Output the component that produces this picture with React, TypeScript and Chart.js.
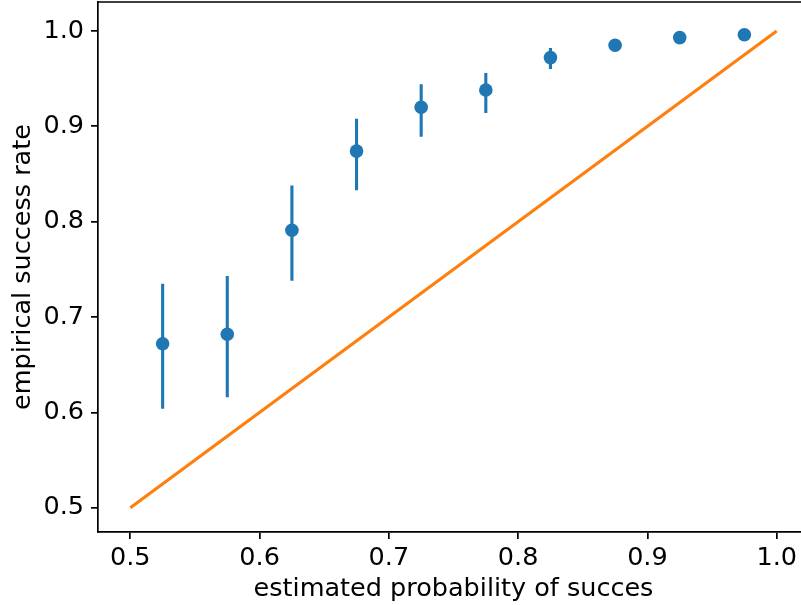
import React, { useEffect, useRef } from "react";
import { Chart, registerables } from "chart.js";

Chart.register(...registerables);

const binCenters = [0.525, 0.575, 0.625, 0.675, 0.725, 0.775, 0.825, 0.875, 0.925, 0.975];
const successRate = [0.672, 0.682, 0.791, 0.874, 0.920, 0.938, 0.972, 0.985, 0.993, 0.996];
const errLow = [0.604, 0.616, 0.738, 0.833, 0.889, 0.914, 0.960, 0.980, 0.990, 0.994];
const errHigh = [0.735, 0.743, 0.838, 0.908, 0.944, 0.956, 0.982, 0.989, 0.996, 0.998];
const diagX = [0.5, 1.0];
const diagY = [0.5, 1.0];
const xTicks = [0.5, 0.6, 0.7, 0.8, 0.9, 1.0];
const yTicks = [0.5, 0.6, 0.7, 0.8, 0.9, 1.0];

const BLUE = "#1f77b4";
const ORANGE = "#ff7f0e";
const FONT = "'DejaVu Sans', sans-serif";
const FS = 25.5;

const topSpine = {
  id: "topSpine",
  afterDraw(chart: any) {
    const { ctx, chartArea } = chart;
    ctx.save();
    ctx.strokeStyle = "#000";
    ctx.lineWidth = 1.7;
    ctx.beginPath();
    ctx.moveTo(chartArea.left - 0.85, chartArea.top);
    ctx.lineTo(chartArea.right, chartArea.top);
    ctx.stroke();
    ctx.restore();
  },
};

const gridOpts = {
  display: true,
  drawOnChartArea: false,
  drawTicks: true,
  tickLength: 7,
  tickColor: "#000",
  tickWidth: 1.7,
  color: "#000",
  lineWidth: 1.7,
};

export default function App() {
  const ref = useRef<HTMLCanvasElement | null>(null);

  useEffect(() => {
    if (!ref.current) return;
    const errData: any[] = [];
    binCenters.forEach((x, i) => {
      errData.push({ x, y: errLow[i] });
      errData.push({ x, y: errHigh[i] });
      errData.push({ x, y: null });
    });
    const chart = new Chart(ref.current, {
      type: "scatter",
      data: {
        datasets: [
          {
            type: "scatter",
            data: binCenters.map((x, i) => ({ x, y: successRate[i] })),
            backgroundColor: BLUE,
            borderColor: BLUE,
            pointRadius: 6.8,
            pointBorderWidth: 0,
            order: 0,
          } as any,
          {
            type: "line",
            data: errData,
            borderColor: BLUE,
            borderWidth: 3.1,
            pointRadius: 0,
            spanGaps: false,
            fill: false,
            order: 1,
          } as any,
          {
            type: "line",
            data: diagX.map((x, i) => ({ x, y: diagY[i] })),
            borderColor: ORANGE,
            borderWidth: 3.1,
            pointRadius: 0,
            fill: false,
            order: 2,
          } as any,
        ],
      },
      options: {
        animation: false,
        responsive: false,
        maintainAspectRatio: false,
        devicePixelRatio: 1,
        layout: { autoPadding: false, padding: { top: 2, right: 0, left: 0, bottom: 0 } },
        plugins: { legend: { display: false }, tooltip: { enabled: false } },
        scales: {
          x: {
            type: "linear",
            min: 0.475,
            max: 1.025,
            afterBuildTicks: (s: any) => {
              s.ticks = xTicks.map((v) => ({ value: v }));
            },
            afterFit: (s: any) => {
              s.height = 73;
              s.paddingLeft = 0;
              s.paddingRight = 0;
            },
            ticks: {
              color: "#000",
              font: { family: FONT, size: FS },
              padding: 4,
              maxRotation: 0,
              callback: (v: any) => Number(v).toFixed(1),
            },
            grid: gridOpts,
            border: { display: true, color: "#000", width: 1.7 },
            title: {
              display: true,
              text: "estimated probability of succes",
              color: "#000",
              font: { family: FONT, size: FS, lineHeight: 1.2 },
              padding: { top: 0, bottom: 0 },
            },
          },
          y: {
            type: "linear",
            min: 0.4747,
            max: 1.0303,
            afterBuildTicks: (s: any) => {
              s.ticks = yTicks.map((v) => ({ value: v }));
            },
            afterFit: (s: any) => {
              s.width = 98;
              s.paddingTop = 0;
              s.paddingBottom = 0;
            },
            ticks: {
              color: "#000",
              font: { family: FONT, size: FS },
              padding: 7,
              callback: (v: any) => Number(v).toFixed(1),
            },
            grid: gridOpts,
            border: { display: true, color: "#000", width: 1.7 },
            title: {
              display: true,
              text: "empirical success rate",
              color: "#000",
              font: { family: FONT, size: FS, lineHeight: 1.2 },
              padding: { top: 8, bottom: 0 },
            },
          },
        },
      },
      plugins: [topSpine],
    });
    return () => chart.destroy();
  }, []);

  return (
    <div
      style={{
        position: "fixed",
        left: 0,
        top: 0,
        width: 801,
        height: 605,
        overflow: "hidden",
        background: "#fff",
      }}
    >
      <canvas
        ref={ref}
        width={809}
        height={605}
        style={{ display: "block", width: 809, height: 605 }}
      />
    </div>
  );
}
